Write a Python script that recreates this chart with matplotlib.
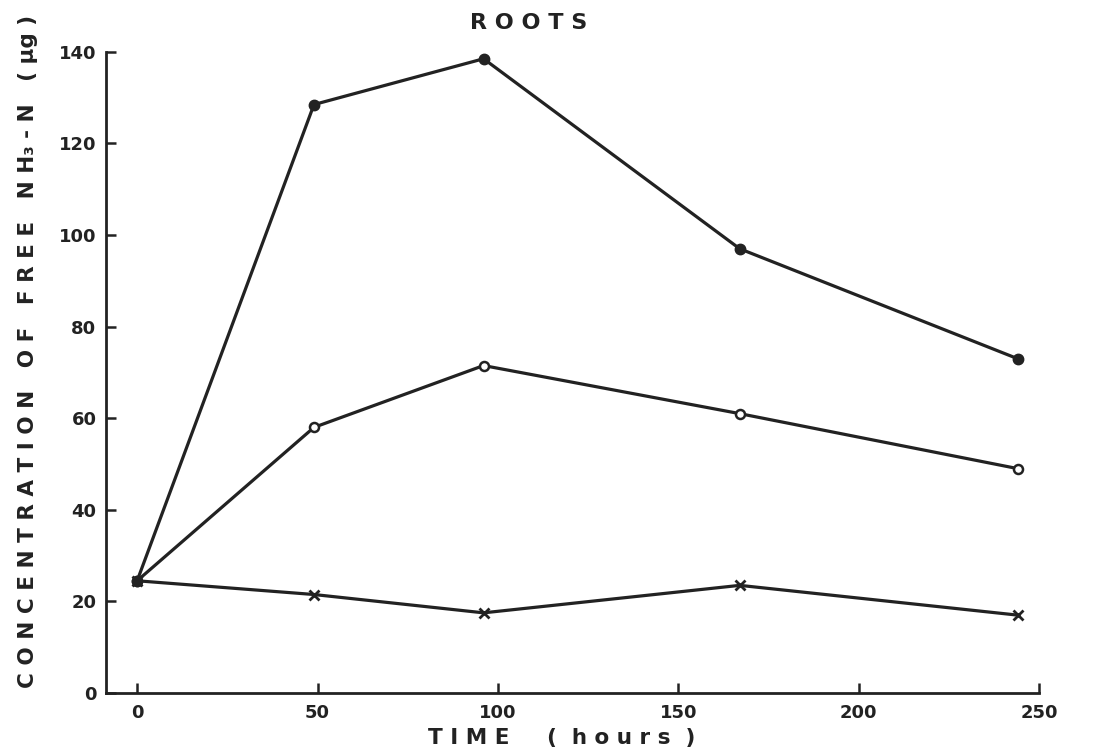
import matplotlib
matplotlib.use('Agg')
import matplotlib.pyplot as plt

# sampling times (hours) and free NH3-N in roots for the three treatments
hours = [0, 49, 96, 167, 244]
nh3_filled = [24.5, 128.5, 138.5, 97, 73]
nh3_open = [24.5, 58, 71.5, 61, 49]
nh3_cross = [24.5, 21.5, 17.5, 23.5, 17]

x_ticks = [0, 50, 100, 150, 200, 250]
y_ticks = [0, 20, 40, 60, 80, 100, 120, 140]

INK = '#222222'

plt.rcParams.update({'font.family': 'DejaVu Sans', 'font.weight': 'bold'})

fig = plt.figure(figsize=(10.94, 7.52), dpi=100)
ax = fig.add_axes([0.097, 0.0785, 0.853, 0.8525])

ax.plot(hours, nh3_cross, color=INK, lw=2.3, marker='x', ms=7,
        mec=INK, mew=2.0, zorder=3)
ax.plot(hours, nh3_open, color=INK, lw=2.3, marker='o', ms=6.5,
        mfc='white', mec=INK, mew=1.8, zorder=4)
ax.plot(hours, nh3_filled, color=INK, lw=2.3, marker='o', ms=7.5,
        mfc=INK, mec=INK, zorder=5)

ax.set_xlim(-8.6, 250)
ax.set_ylim(0, 140)
ax.set_xticks(x_ticks)
ax.set_yticks(y_ticks)

for side in ['top', 'right']:
    ax.spines[side].set_visible(False)
for side in ['left', 'bottom']:
    ax.spines[side].set_linewidth(2.0)
    ax.spines[side].set_color(INK)

ax.tick_params(axis='both', direction='in', length=7, width=1.8,
               color=INK, labelcolor=INK, labelsize=13)
ax.tick_params(axis='x', pad=8)
ax.tick_params(axis='y', pad=7)

fig.text(0.483, 0.970, 'R O O T S', ha='center', va='center',
         fontsize=16, fontweight='bold', color=INK)
fig.text(0.513, 0.019, 'T I M E     (  h o u r s  )', ha='center', va='center',
         fontsize=15.5, fontweight='bold', color=INK)
fig.text(0.026, 1 - 688 / 752, 'C O N C E N T R A T I O N   O F   F R E E   '
         'N H₃ - N   ( μg )', rotation=90, ha='center', va='bottom',
         fontsize=15.5, fontweight='bold', color=INK)

fig.savefig('out.png', dpi=100, facecolor='white')
